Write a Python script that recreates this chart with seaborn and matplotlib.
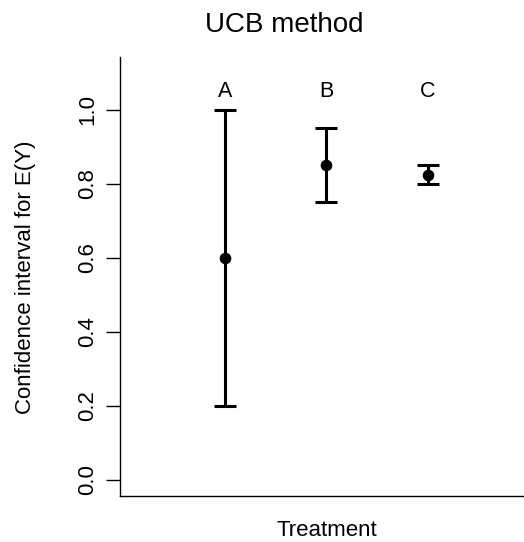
import matplotlib
matplotlib.use("Agg")
import matplotlib.pyplot as plt
import seaborn as sns
import pandas as pd

treatments = ["A", "B", "C"]
positions = [1, 2, 3]
means = [0.6, 0.85, 0.825]
lower = [0.2, 0.75, 0.80]
upper = [1.0, 0.95, 0.85]
label_y = [1.05, 1.05, 1.05]
yticks = [0.0, 0.2, 0.4, 0.6, 0.8, 1.0]

df = pd.DataFrame({"Treatment": treatments, "pos": positions, "mean": means,
                   "lower": lower, "upper": upper, "label_y": label_y})

sns.set_style("ticks")
plt.rcParams["font.family"] = ["Liberation Sans", "DejaVu Sans"]
plt.rcParams["text.color"] = "black"
plt.rcParams["axes.labelcolor"] = "black"

fig = plt.figure(figsize=(5.24, 5.42), dpi=100)
ax = fig.add_axes([120/524, 46/542, 404/524, 439/542])

ax.errorbar(df["pos"], df["mean"],
            yerr=[df["mean"] - df["lower"], df["upper"] - df["mean"]],
            fmt="none", ecolor="black", elinewidth=2.2, capsize=8, capthick=2.2)
sns.scatterplot(data=df, x="pos", y="mean", ax=ax, color="black", s=70,
                edgecolor="black", linewidth=0, zorder=3)

for _, r in df.iterrows():
    ax.text(r["pos"], r["label_y"], r["Treatment"], ha="center", va="center",
            fontsize=15.5, color="black")

ax.set_xlim(-0.034, 3.946)
ax.set_ylim(-0.0432, 1.1432)
ax.set_xticks([])
ax.set_yticks(yticks)
ax.set_yticklabels([f"{v:.1f}" for v in yticks])
ax.tick_params(axis="y", length=10, width=1, pad=5.5, labelsize=16, color="black", labelcolor="black")
plt.setp(ax.get_yticklabels(), rotation=90, va="center")
ax.set_xlabel("")
ax.set_ylabel("")
for s in ["top", "right"]:
    ax.spines[s].set_visible(False)
for s in ["left", "bottom"]:
    ax.spines[s].set_color("black")
    ax.spines[s].set_linewidth(1.0)

fig.text(284/524, 1 - 32/542, "UCB method", ha="center", va="baseline", fontsize=20, color="black")
fig.text(327/524, 1 - 536/542, "Treatment", ha="center", va="baseline", fontsize=16, color="black")
fig.text(26/524, 1 - 277/542, "Confidence interval for E(Y)", ha="center", va="center",
         rotation=90, fontsize=16, color="black")

fig.savefig("out.png", dpi=100)
